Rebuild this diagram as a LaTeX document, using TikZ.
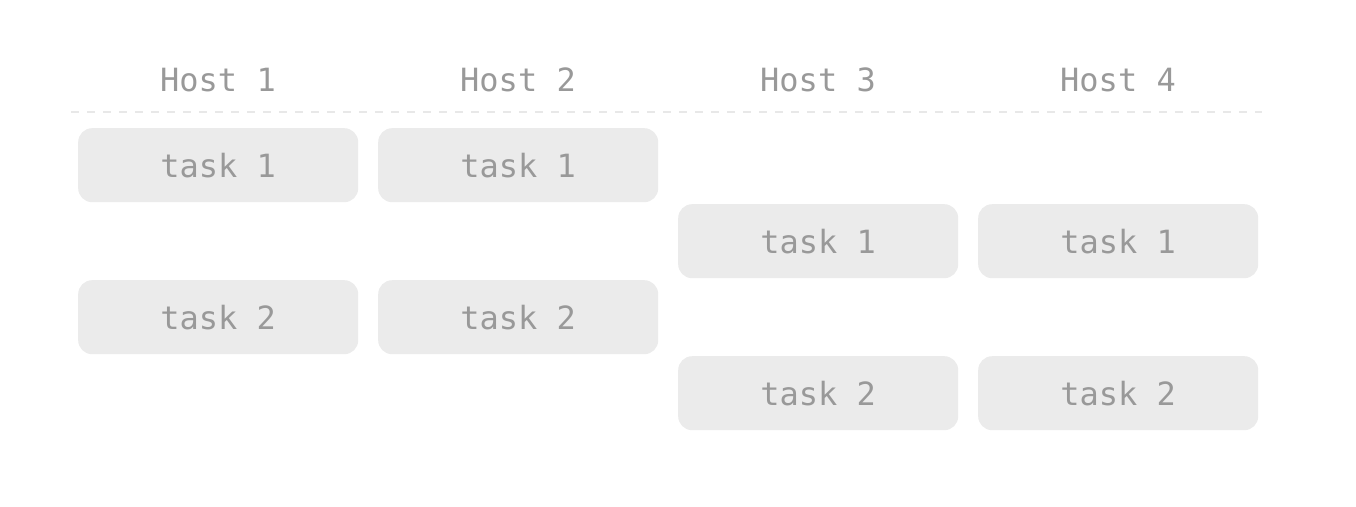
\documentclass[tikz,border=0pt]{standalone}
\usepackage{fontspec}
\setmonofont{DejaVu Sans Mono}
\definecolor{boxfill}{HTML}{EBEBEB}
\definecolor{txt}{HTML}{999999}
\definecolor{dashcol}{HTML}{E8E8E8}
\begin{document}
\begin{tikzpicture}[x=1pt,y=-1pt,
  taskbox/.style={fill=boxfill,draw=none,rounded corners=14pt,minimum width=280pt,minimum height=74pt,inner sep=0pt,font=\ttfamily\fontsize{32}{36}\selectfont,text=txt,anchor=north west},
  hosttxt/.style={font=\ttfamily\fontsize{32}{36}\selectfont,text=txt,inner sep=0pt}]
\useasboundingbox (0,0) rectangle (1356,506);
\fill[white] (0,0) rectangle (1356,506);
\node[hosttxt] (h1) at (218,80) {Host 1};
\node[hosttxt] (h2) at (518,80) {Host 2};
\node[hosttxt] (h3) at (818,80) {Host 3};
\node[hosttxt] (h4) at (1118,80) {Host 4};
\coordinate (dl) at (71,111.5);
\coordinate (dr) at (1262,111.5);
\draw[dashcol,line width=2pt,dash pattern=on 8pt off 8pt] (dl) -- (dr);
\node[taskbox] (a1) at (78,128) {task 1};
\node[taskbox] (b1) at (378,128) {task 1};
\node[taskbox] (c1) at (678,204) {task 1};
\node[taskbox] (d1) at (978,204) {task 1};
\node[taskbox] (a2) at (78,280) {task 2};
\node[taskbox] (b2) at (378,280) {task 2};
\node[taskbox] (c2) at (678,356) {task 2};
\node[taskbox] (d2) at (978,356) {task 2};
\end{tikzpicture}
\end{document}
